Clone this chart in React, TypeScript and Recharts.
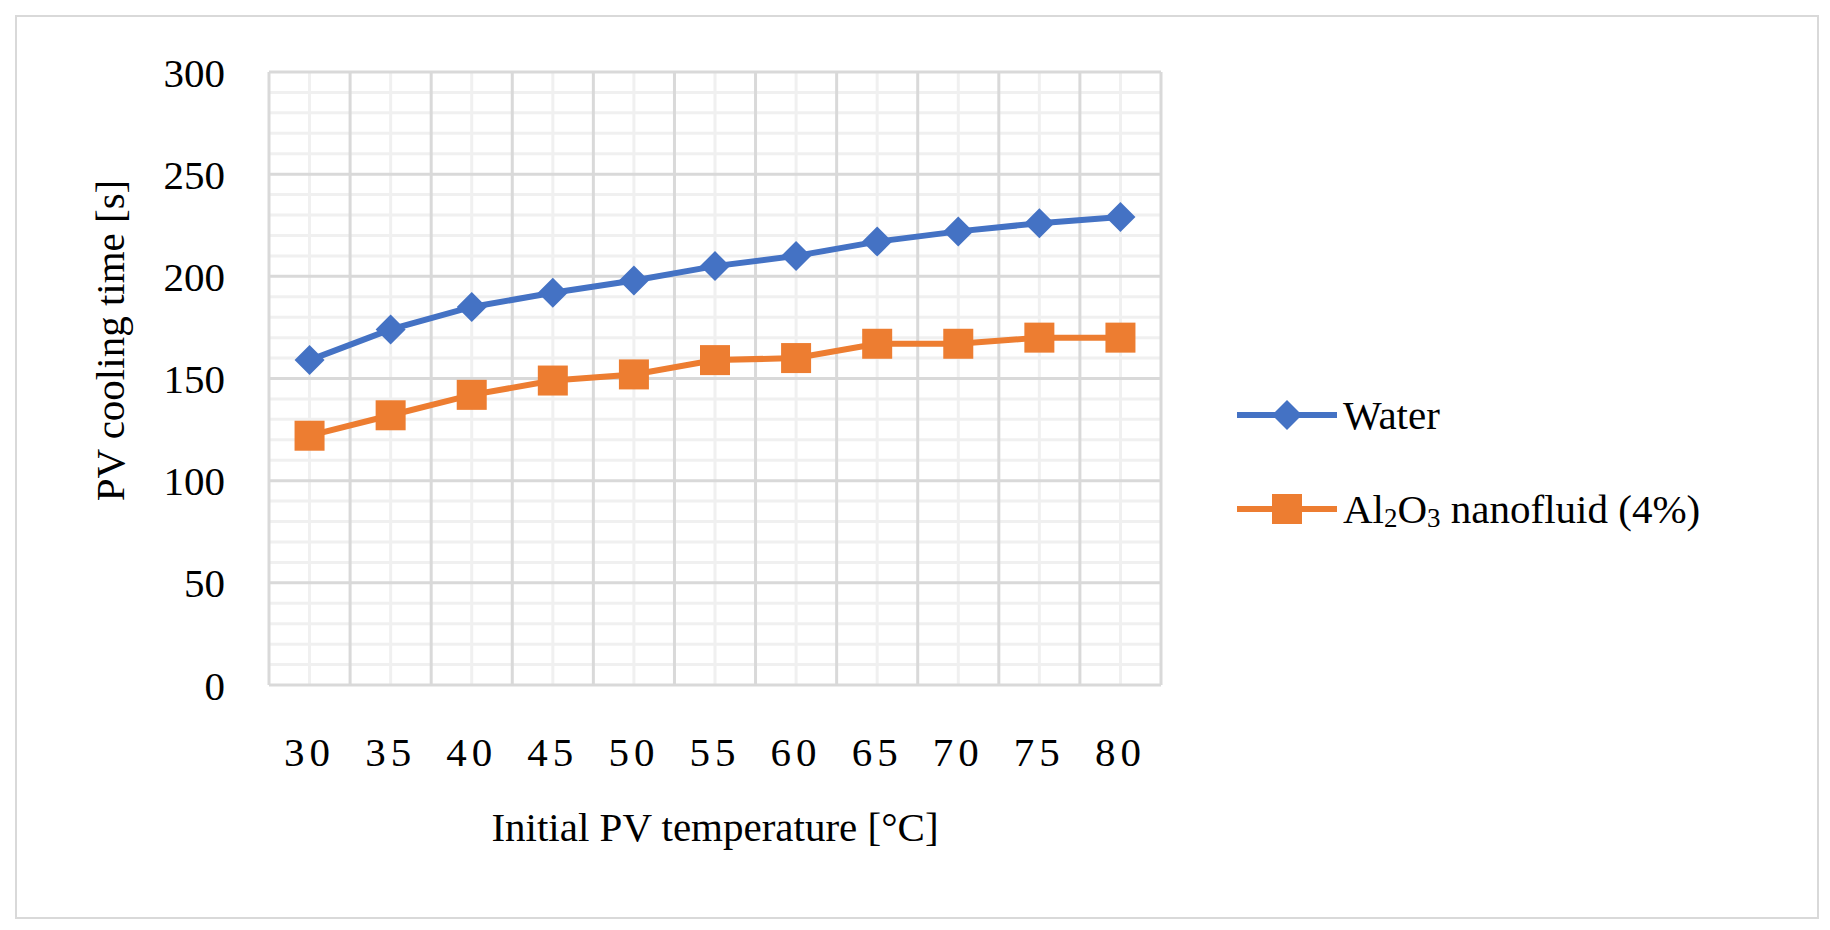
import React from "react";
import { LineChart, Line, XAxis, YAxis, ReferenceLine } from "recharts";

// values
const temps = [30, 35, 40, 45, 50, 55, 60, 65, 70, 75, 80];
const water = [159, 174, 185, 192, 198, 205, 210, 217, 222, 226, 229];
const alumina = [122, 132, 142, 149, 152, 159, 160, 167, 167, 170, 170];
const yTicks = [0, 50, 100, 150, 200, 250, 300];
const yMinor = [10, 20, 30, 40, 60, 70, 80, 90, 110, 120, 130, 140, 160, 170, 180, 190, 210, 220, 230, 240, 260, 270, 280, 290];
const xMajor = [27.5, 32.5, 37.5, 42.5, 47.5, 52.5, 57.5, 62.5, 67.5, 72.5, 77.5, 82.5];

const data = temps.map((t, i) => ({ t, water: water[i], alumina: alumina[i] }));

const FONT = "'Liberation Serif', serif";
const FS = 41;
const BLUE = "#4472c4";
const ORANGE = "#ed7d31";

const Diamond = (p: any) => (
  <polygon
    points={`${p.cx},${p.cy - 15} ${p.cx + 15},${p.cy} ${p.cx},${p.cy + 15} ${p.cx - 15},${p.cy}`}
    fill={BLUE}
  />
);
const Square = (p: any) => <rect x={p.cx - 15} y={p.cy - 15} width={30} height={30} fill={ORANGE} />;

const App = () => {
  return (
    <div style={{ position: "relative", marginLeft: 7, marginTop: 7, width: 1800, height: 900, border: "2px solid #d9d9d9", fontFamily: FONT }}>
      <LineChart width={1800} height={900} data={data} margin={{ top: 55, right: 656, bottom: 132, left: 0 }}>
        <XAxis
          dataKey="t"
          type="number"
          domain={[27.5, 82.5]}
          ticks={temps}
          tickLine={false}
          axisLine={false}
          height={100}
          tickMargin={46}
          tick={{ fill: "#000", fontSize: FS, fontFamily: FONT, letterSpacing: 5 }}
          label={{
            content: (props: any) => {
              const vb = props.viewBox;
              return (
                <text x={vb.x + vb.width / 2} y={810} textAnchor="middle" dominantBaseline="central" fontSize={FS} fontFamily={FONT} fill="#000">
                  Initial PV temperature [°C]
                </text>
              );
            },
          }}
        />
        <YAxis
          domain={[0, 300]}
          ticks={yTicks}
          width={252}
          tickLine={false}
          axisLine={false}
          tickMargin={38}
          tick={{ fill: "#000", fontSize: FS, fontFamily: FONT }}
          label={{
            content: (props: any) => {
              const vb = props.viewBox;
              const x = 93;
              const y = vb.y + vb.height / 2 - 38;
              return (
                <text x={x} y={y} transform={`rotate(-90 ${x} ${y})`} textAnchor="middle" dominantBaseline="central" fontSize={FS} fontFamily={FONT} fill="#000">
                  PV cooling time [s]
                </text>
              );
            },
          }}
        />
        {yMinor.map((v) => (
          <ReferenceLine key={"ym" + v} y={v} stroke="#f0f0f0" strokeWidth={3} />
        ))}
        {temps.map((v) => (
          <ReferenceLine key={"xm" + v} x={v} stroke="#f0f0f0" strokeWidth={3} />
        ))}
        {yTicks.map((v) => (
          <ReferenceLine key={"yM" + v} y={v} stroke="#d9d9d9" strokeWidth={3} />
        ))}
        {xMajor.map((v) => (
          <ReferenceLine key={"xM" + v} x={v} stroke="#d9d9d9" strokeWidth={3} />
        ))}
        <Line dataKey="water" stroke={BLUE} strokeWidth={6} dot={<Diamond />} isAnimationActive={false} />
        <Line dataKey="alumina" stroke={ORANGE} strokeWidth={6} dot={<Square />} isAnimationActive={false} />
      </LineChart>
      <div style={{ position: "absolute", left: 1220, top: 373, fontSize: FS, lineHeight: "50px" }}>
        <div style={{ display: "flex", alignItems: "center", height: 50 }}>
          <svg width={100} height={40}>
            <line x1={0} y1={20} x2={100} y2={20} stroke={BLUE} strokeWidth={6} />
            <polygon points="50,5 65,20 50,35 35,20" fill={BLUE} />
          </svg>
          <span style={{ marginLeft: 6 }}>Water</span>
        </div>
        <div style={{ display: "flex", alignItems: "center", height: 50, marginTop: 44 }}>
          <svg width={100} height={40}>
            <line x1={0} y1={20} x2={100} y2={20} stroke={ORANGE} strokeWidth={6} />
            <rect x={35} y={5} width={30} height={30} fill={ORANGE} />
          </svg>
          <span style={{ marginLeft: 6 }}>
            Al<sub style={{ fontSize: 27, verticalAlign: "-4px", lineHeight: 0 }}>2</sub>O<sub style={{ fontSize: 27, verticalAlign: "-4px", lineHeight: 0 }}>3</sub> nanofluid (4%)
          </span>
        </div>
      </div>
    </div>
  );
};

export default App;
